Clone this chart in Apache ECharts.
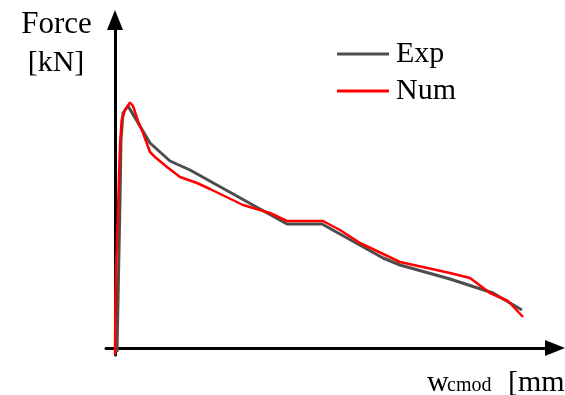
<!DOCTYPE html>
<html>
<head>
<meta charset="utf-8">
<script src="https://cdn.jsdelivr.net/npm/echarts@6/dist/echarts.min.js"></script>
<style>
  html, body { margin: 0; padding: 0; background: #fff; }
  #chart { width: 565px; height: 395px; }
</style>
</head>
<body>
<div id="chart"></div>
<script>
// Crack mouth opening displacement w_cmod [mm] and load [kN]
const expW = [0.02, 0.05, 0.06, 0.08, 0.13, 0.35, 0.55, 0.75, 1.72, 2.07, 2.68, 2.85, 3.35, 3.78, 4.07];
const expF = [-0.4, 14.8, 20.8, 23.5, 24.2, 20.5, 18.7, 17.8, 12.4, 12.4, 9.0, 8.3, 6.9, 5.5, 3.8];

const numW = [0.00, 0.005, 0.02, 0.033, 0.05, 0.067, 0.10, 0.15, 0.18, 0.23, 0.28, 0.35, 0.40, 0.52, 0.65,
              0.82, 0.95, 1.28, 1.55, 1.72, 2.08, 2.25, 2.45, 2.85, 3.35, 3.55, 3.75, 3.93, 4.08];
const numF = [-0.7, 5.8, 10.8, 14.8, 20.3, 22.8, 23.8, 24.55, 24.2, 22.7, 21.5, 19.6, 19.1, 18.1, 17.1,
              16.5, 15.9, 14.3, 13.5, 12.7, 12.7, 11.8, 10.5, 8.6, 7.5, 7.0, 5.5, 4.7, 3.1];

const seriesNames = ['Exp', 'Num'];

const pairs = (xs, ys) => xs.map((x, i) => [x, ys[i]]);
const serif = '"Liberation Serif", "DejaVu Serif", serif';
// solid triangular arrow head, 16 wide and 20 long
const arrowPath = 'path://M0,0 L8,20 L-8,20 Z';

const chart = echarts.init(document.getElementById('chart'), null, { renderer: 'canvas' });

chart.setOption({
  animation: false,
  backgroundColor: '#ffffff',
  grid: { left: 106, right: 10, top: 20, bottom: 40, containLabel: false },
  xAxis: {
    type: 'value',
    min: -0.09,
    max: 4.40,
    axisLine: {
      onZero: true,
      symbol: ['none', arrowPath],
      symbolSize: [16, 20],
      lineStyle: { color: '#000', width: 3 }
    },
    axisTick: { show: false },
    axisLabel: { show: false },
    splitLine: { show: false }
  },
  yAxis: {
    type: 'value',
    min: -0.7,
    max: 32.8,
    axisLine: {
      show: true,
      onZero: true,
      symbol: ['none', arrowPath],
      symbolSize: [16, 20],
      lineStyle: { color: '#000', width: 3 }
    },
    axisTick: { show: false },
    axisLabel: { show: false },
    splitLine: { show: false }
  },
  legend: {
    data: seriesNames,
    orient: 'vertical',
    left: 337,
    top: 39,
    padding: 0,
    icon: 'rect',
    itemWidth: 52,
    itemHeight: 3,
    itemGap: 7,
    textStyle: { fontFamily: serif, fontSize: 30, color: '#000', lineHeight: 30, padding: [0, 0, 0, 2] }
  },
  graphic: [
    { type: 'text', x: 56.5, y: 9,
      style: { text: 'Force', font: '31px ' + serif, fill: '#000', align: 'center', verticalAlign: 'top' } },
    { type: 'text', x: 56, y: 48,
      style: { text: '[kN]', font: '30px ' + serif, fill: '#000', align: 'center', verticalAlign: 'top' } },
    { type: 'text', x: 427, y: 368,
      style: { text: 'w', font: '30px ' + serif, fill: '#000', verticalAlign: 'top' } },
    { type: 'text', x: 447, y: 376,
      style: { text: 'cmod', font: '20px ' + serif, fill: '#000', verticalAlign: 'top' } },
    { type: 'text', x: 508, y: 368,
      style: { text: '[mm]', font: '30px ' + serif, fill: '#000', verticalAlign: 'top' } }
  ],
  series: [
    {
      name: seriesNames[0],
      type: 'line',
      data: pairs(expW, expF),
      showSymbol: false,
      symbol: 'none',
      clip: false,
      color: '#4d4d4d',
      lineStyle: { color: '#4d4d4d', width: 3 },
      z: 3
    },
    {
      name: seriesNames[1],
      type: 'line',
      data: pairs(numW, numF),
      showSymbol: false,
      symbol: 'none',
      clip: false,
      color: '#ff0000',
      lineStyle: { color: '#ff0000', width: 2.5 },
      z: 4
    }
  ]
});
</script>
</body>
</html>
